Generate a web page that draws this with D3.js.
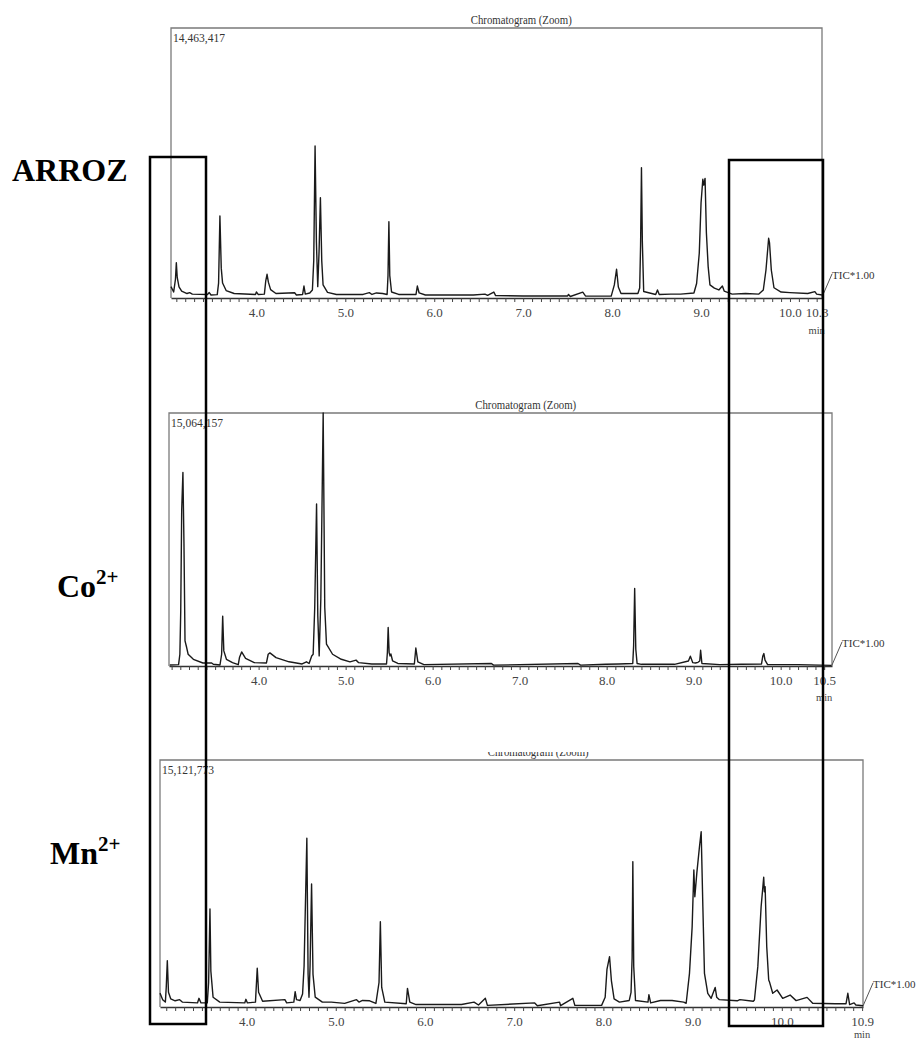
<!DOCTYPE html>
<html>
<head>
<meta charset="utf-8">
<script src="https://cdn.jsdelivr.net/npm/d3@7"></script>
<style>
  body { margin: 0; background: #fff; }
  svg { display: block; }
  svg text { font-family: "Liberation Serif", "Times New Roman", serif; }
</style>
</head>
<body>
<svg id="chart" width="917" height="1039"></svg>
<script>
// Total ion chromatograms: [retention time (min), intensity (millions of counts)]
const arrozTrace = [
  [3.04,0.61],[3.07,0.32],[3.09,1.00],[3.10,1.89],[3.11,1.10],[3.13,0.60],[3.16,0.37],[3.22,0.24],[3.25,0.29],[3.28,0.21],
  [3.45,0.19],[3.47,0.29],[3.49,0.16],[3.56,0.18],[3.575,0.80],[3.59,4.39],[3.605,1.60],[3.62,0.80],[3.66,0.40],[3.75,0.24],
  [3.99,0.19],[4.00,0.32],[4.02,0.19],[4.09,0.21],[4.105,0.90],[4.12,1.27],[4.135,0.85],[4.16,0.45],[4.22,0.24],[4.43,0.28],
  [4.45,0.16],[4.52,0.19],[4.535,0.64],[4.55,0.21],[4.60,0.27],[4.63,0.43],[4.645,2.0],[4.66,8.14],[4.675,3.0],[4.69,0.61],
  [4.705,2.5],[4.72,5.37],[4.735,2.0],[4.75,0.70],[4.80,0.30],[4.90,0.19],[5.20,0.19],[5.27,0.29],[5.30,0.19],[5.35,0.27],
  [5.42,0.24],[5.47,0.19],[5.48,1.2],[5.49,4.09],[5.50,1.2],[5.52,0.32],[5.60,0.19],[5.795,0.19],[5.81,0.64],[5.83,0.27],
  [5.90,0.16],[6.44,0.16],[6.57,0.21],[6.60,0.14],[6.67,0.32],[6.69,0.13],[7.00,0.11],[7.50,0.11],[7.51,0.19],[7.53,0.08],
  [7.67,0.31],[7.70,0.11],[7.99,0.10],[8.025,0.70],[8.05,1.54],[8.07,0.59],[8.10,0.24],[8.29,0.24],[8.31,0.54],[8.32,2.8],
  [8.33,6.98],[8.34,3.0],[8.355,0.35],[8.49,0.19],[8.51,0.43],[8.53,0.19],[8.66,0.21],[8.77,0.21],[8.92,0.27],[8.95,0.78],
  [8.98,2.4],[9.00,5.1],[9.02,6.36],[9.03,6.05],[9.045,6.41],[9.06,3.5],[9.08,1.68],[9.10,0.70],[9.15,0.53],[9.20,0.43],
  [9.24,0.64],[9.26,0.37],[9.35,0.21],[9.50,0.24],[9.65,0.21],[9.70,0.43],[9.73,1.5],[9.76,3.20],[9.77,2.95],[9.79,1.50],
  [9.82,0.55],[9.90,0.32],[10.00,0.29],[10.20,0.24],[10.28,0.34],[10.30,0.21],[10.36,0.16]
];
const cobaltTrace = [
  [2.98,0.06],[3.08,0.08],[3.095,0.7],[3.105,3.3],[3.116,9.3],[3.13,11.52],[3.142,7.3],[3.154,1.5],[3.173,1.1],[3.19,0.7],
  [3.25,0.4],[3.36,0.18],[3.46,0.18],[3.48,0.10],[3.556,0.06],[3.575,0.7],[3.587,2.97],[3.60,0.9],[3.63,0.4],[3.70,0.2],
  [3.766,0.08],[3.78,0.5],[3.805,0.84],[3.85,0.45],[3.95,0.2],[4.09,0.18],[4.11,0.7],[4.13,0.78],[4.20,0.5],[4.35,0.25],
  [4.50,0.12],[4.55,0.25],[4.58,0.15],[4.61,0.6],[4.627,0.7],[4.645,3.5],[4.666,9.65],[4.68,3.0],[4.696,0.6],[4.715,4.0],
  [4.742,15.06],[4.76,3.5],[4.78,1.3],[4.85,0.7],[4.95,0.4],[5.05,0.25],[5.12,0.35],[5.15,0.2],[5.30,0.12],[5.47,0.12],
  [5.48,0.8],[5.489,2.29],[5.50,0.8],[5.51,0.6],[5.52,0.72],[5.54,0.3],[5.60,0.15],[5.79,0.12],[5.807,1.07],[5.83,0.25],
  [5.90,0.08],[6.676,0.15],[6.70,0.05],[7.671,0.15],[7.70,0.05],[7.99,0.10],[8.14,0.12],[8.30,0.15],[8.31,1.2],[8.322,4.62],
  [8.335,1.0],[8.35,0.15],[8.40,0.10],[8.78,0.10],[8.94,0.3],[8.962,0.58],[8.99,0.2],[9.02,0.18],[9.05,0.22],[9.07,0.3],
  [9.08,0.94],[9.095,0.15],[9.30,0.08],[9.55,0.10],[9.78,0.12],[9.795,0.6],[9.807,0.74],[9.82,0.35],[9.85,0.08],[10.2,0.08],
  [10.585,0.04]
];
const manganeseTrace = [
  [3.03,0.85],[3.06,0.45],[3.09,0.3],[3.10,1.2],[3.112,2.83],[3.125,0.9],[3.15,0.5],[3.20,0.38],[3.25,0.45],[3.28,0.3],
  [3.45,0.25],[3.467,0.53],[3.49,0.25],[3.56,0.25],[3.575,1.5],[3.59,6.0],[3.60,2.2],[3.625,0.6],[3.70,0.3],[3.98,0.25],
  [3.993,0.47],[4.01,0.25],[4.10,0.3],[4.12,2.37],[4.135,0.9],[4.18,0.35],[4.43,0.45],[4.45,0.25],[4.53,0.3],[4.545,0.94],
  [4.56,0.45],[4.60,0.4],[4.628,0.8],[4.645,2.5],[4.676,10.33],[4.69,2.0],[4.70,0.6],[4.712,2.5],[4.729,7.53],[4.745,2.0],
  [4.77,0.6],[4.85,0.3],[4.95,0.3],[5.10,0.22],[5.233,0.45],[5.26,0.3],[5.30,0.4],[5.38,0.38],[5.45,0.22],[5.485,1.5],
  [5.50,5.22],[5.515,1.2],[5.55,0.3],[5.79,0.2],[5.804,1.14],[5.83,0.3],[5.90,0.15],[6.41,0.15],[6.55,0.3],[6.60,0.12],
  [6.677,0.53],[6.70,0.1],[7.23,0.25],[7.26,0.08],[7.509,0.3],[7.52,0.08],[7.658,0.53],[7.68,0.1],[7.98,0.1],[8.02,0.6],
  [8.04,2.3],[8.069,3.08],[8.09,1.6],[8.12,0.5],[8.18,0.3],[8.29,0.4],[8.31,0.9],[8.322,3.0],[8.33,8.9],[8.34,2.5],
  [8.36,0.4],[8.50,0.3],[8.51,0.75],[8.53,0.25],[8.64,0.4],[8.77,0.4],[8.90,0.3],[8.928,0.23],[8.965,2.06],[8.995,4.92],
  [9.014,8.39],[9.025,6.75],[9.047,8.18],[9.077,9.81],[9.096,10.73],[9.115,6.14],[9.133,2.06],[9.17,0.84],[9.208,0.53],[9.253,1.2],
  [9.27,0.6],[9.30,0.45],[9.50,0.38],[9.53,0.45],[9.68,0.35],[9.693,0.43],[9.731,2.47],[9.768,6.14],[9.797,7.94],[9.805,7.06],
  [9.813,7.36],[9.831,3.69],[9.853,1.65],[9.861,1.55],[9.898,0.84],[9.947,1.04],[10.01,0.53],[10.093,0.73],[10.16,0.39],[10.283,0.59],
  [10.346,0.23],[10.60,0.2],[10.72,0.2],[10.74,0.84],[10.76,0.15],[10.81,0.25],[10.83,0.12],[10.91,0.08]
];

const traces = [arrozTrace, cobaltTrace, manganeseTrace];
const sampleNames = ["ARROZ", "Co", "Mn"];
const sampleCharges = ["", "2+", "2+"];
const fullScaleCounts = [14463417, 15064157, 15121773];
const timeRanges = [[3.04, 10.36], [2.97, 10.59], [3.03, 10.91]];
const majorTicks = [4, 5, 6, 7, 8, 9, 10];
const endTicks = [10.3, 10.5, 10.9];
const panelTitle = "Chromatogram (Zoom)";
const traceLabel = "TIC*1.00";

// Panel geometry (pixels)
const panels = [
  { left: 171, right: 822, top: 28,  base: 298,  nameX: 12, nameY: 181, unitY: 334 },
  { left: 169, right: 832, top: 413, base: 666,  nameX: 57, nameY: 597, unitY: 701 },
  { left: 160, right: 863, top: 760, base: 1007, nameX: 50, nameY: 864, unitY: 1038 }
];
const serif = "'Liberation Serif', 'Times New Roman', serif";

const svg = d3.select("#chart");
const fmtCount = d3.format(",");
const fmtTime = d3.format(".1f");

panels.forEach((p, i) => {
  const [t0, t1] = timeRanges[i];
  const x = d3.scaleLinear().domain([t0, t1]).range([p.left, p.right]);
  const y = d3.scaleLinear().domain([0, fullScaleCounts[i] / 1e6]).range([p.base, p.top]);
  const g = svg.append("g").attr("font-family", serif);

  // Frame
  g.append("path")
    .attr("d", `M${p.left},${p.base}V${p.top}H${p.right}V${p.base}`)
    .attr("fill", "none").attr("stroke", "#7a7a7a").attr("stroke-width", 1.3);

  // Title (the lowest one is cut off by the page crop)
  const titleX = p.left + 0.538 * (p.right - p.left);
  const title = g.append("text")
    .attr("x", titleX).attr("y", p.top - 4)
    .attr("text-anchor", "middle")
    .attr("font-family", serif)
    .attr("font-size", 13).attr("fill", "#333")
    .attr("textLength", 101).attr("lengthAdjust", "spacingAndGlyphs")
    .text(panelTitle);
  if (i === 2) {
    svg.append("clipPath").attr("id", "titleClip")
      .append("rect").attr("x", 0).attr("y", p.top - 8).attr("width", 917).attr("height", 8);
    title.attr("clip-path", "url(#titleClip)");
  }

  // Full-scale intensity
  g.append("text")
    .attr("x", p.left + 2).attr("y", p.top + 14)
    .attr("font-family", serif)
    .attr("font-size", 13).attr("fill", "#333")
    .attr("textLength", 52).attr("lengthAdjust", "spacingAndGlyphs")
    .text(fmtCount(fullScaleCounts[i]));

  // Minor ticks every 0.1 min
  const minor = d3.range(Math.ceil(t0 * 10), Math.floor(t1 * 10) + 1).map(v => v / 10);
  const axisG = g.append("g").attr("transform", `translate(0,${p.base})`)
    .call(d3.axisBottom(x).tickValues(minor).tickSize(4).tickFormat("").tickSizeOuter(0));
  axisG.select(".domain").attr("stroke", "#333").attr("stroke-width", 1.4);
  axisG.selectAll(".tick line").attr("stroke", "#444").attr("stroke-width", 1);

  // Labelled ticks
  const labG = g.append("g").attr("transform", `translate(0,${p.base})`)
    .call(d3.axisBottom(x).tickValues([...majorTicks, endTicks[i]]).tickSize(0).tickPadding(10).tickFormat(fmtTime));
  labG.attr("font-family", serif);
  labG.select(".domain").remove();
  labG.selectAll("text")
    .attr("font-family", serif)
    .attr("font-size", 13).attr("fill", "#444");

  // Unit under the last tick label
  g.append("text")
    .attr("x", x(endTicks[i])).attr("y", p.unitY)
    .attr("text-anchor", "middle").attr("font-size", 10.5).attr("fill", "#444")
    .attr("font-family", serif)
    .text("min");

  // Trace label with leader line
  g.append("line")
    .attr("x1", p.right).attr("y1", p.base - 1)
    .attr("x2", p.right + 10).attr("y2", p.base - 24)
    .attr("stroke", "#555").attr("stroke-width", 1);
  g.append("text")
    .attr("x", p.right + 10).attr("y", p.base - 19)
    .attr("font-family", serif)
    .attr("font-size", 11).attr("fill", "#333")
    .text(traceLabel);

  // Chromatogram trace
  g.append("path")
    .datum(traces[i])
    .attr("fill", "none").attr("stroke", "#1a1a1a").attr("stroke-width", 1.4)
    .attr("stroke-linejoin", "round")
    .attr("d", d3.line().x(d => x(d[0])).y(d => y(d[1])));

  // Sample label
  const name = svg.append("text")
    .attr("x", p.nameX).attr("y", p.nameY)
    .attr("font-family", serif)
    .attr("font-weight", "bold").attr("font-size", 32).attr("fill", "#000");
  name.append("tspan").text(sampleNames[i]);
  if (sampleCharges[i]) {
    name.append("tspan").attr("dy", -13).attr("font-size", 21).text(sampleCharges[i]);
  }
});

// Highlighted retention-time windows
const highlightBoxes = [
  { x0: 150, x1: 206, y0: 157, y1: 1024 },
  { x0: 729, x1: 823, y0: 160, y1: 1026 }
];
svg.selectAll("rect.highlight").data(highlightBoxes).join("rect")
  .attr("class", "highlight")
  .attr("x", d => d.x0).attr("y", d => d.y0)
  .attr("width", d => d.x1 - d.x0).attr("height", d => d.y1 - d.y0)
  .attr("fill", "none").attr("stroke", "#000").attr("stroke-width", 2.5);
</script>
</body>
</html>
